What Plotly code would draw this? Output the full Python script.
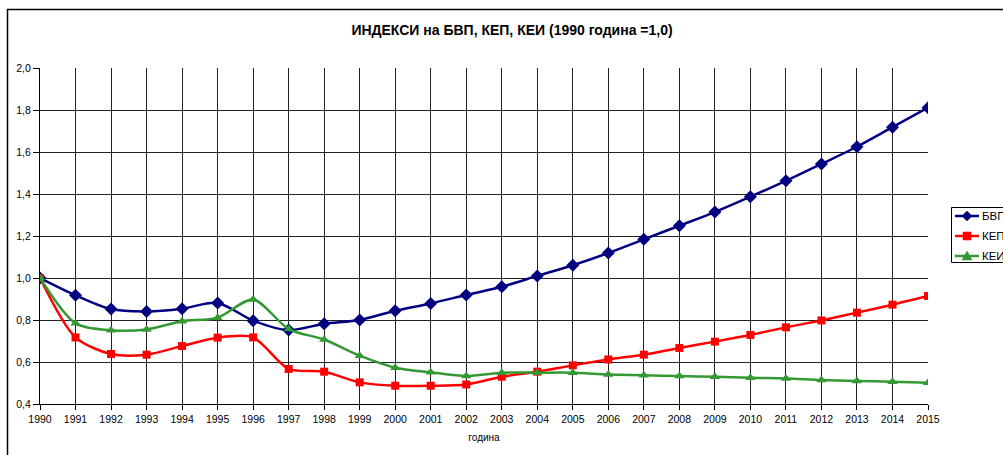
import plotly.graph_objects as go

years = list(range(1990, 2016))
bvp = [1.0, 0.918, 0.852, 0.841, 0.854, 0.881, 0.797, 0.752, 0.782, 0.80, 0.844, 0.879,
       0.919, 0.958, 1.01, 1.061, 1.119, 1.184, 1.249, 1.314, 1.387, 1.463, 1.543, 1.625,
       1.718, 1.811]
kep = [1.0, 0.717, 0.638, 0.635, 0.676, 0.716, 0.717, 0.567, 0.554, 0.503, 0.487, 0.487,
       0.493, 0.53, 0.554, 0.584, 0.612, 0.635, 0.667, 0.697, 0.729, 0.765, 0.798, 0.835,
       0.873, 0.914]
kei = [1.0, 0.784, 0.751, 0.755, 0.794, 0.811, 0.898, 0.757, 0.707, 0.63, 0.573, 0.551,
       0.533, 0.549, 0.549, 0.549, 0.540, 0.537, 0.533, 0.530, 0.525, 0.522, 0.514, 0.510,
       0.506, 0.501]
names = ["БВП", "КЕП", "КЕИ"]
y_ticks = [0.4, 0.6, 0.8, 1.0, 1.2, 1.4, 1.6, 1.8, 2.0]
y_tick_text = ["0,4", "0,6", "0,8", "1,0", "1,2", "1,4", "1,6", "1,8", "2,0"]

W, H = 1003, 455
# plot area in page pixels
L, R, T, B = 40, 928, 68, 404


def px(p):
    return (p - L) / (R - L)


def py(p):
    return (B - p) / (B - T)


fig = go.Figure()
styles = [("#000080", "diamond", 10), ("#FF0000", "square", 8), ("#339933", "triangle-up", 9)]
for name, vals, (col, sym, sz) in zip(names, [bvp, kep, kei], styles):
    fig.add_trace(go.Scatter(
        x=years, y=vals, name=name, mode="lines+markers",
        line=dict(color=col, width=2.5, shape="spline", smoothing=0.8),
        marker=dict(symbol=sym, size=sz, color=col),
        showlegend=False,
    ))

fig.update_layout(
    width=W, height=H,
    margin=dict(l=L, r=W - R, t=T, b=H - B),
    paper_bgcolor="white", plot_bgcolor="white",
    font=dict(family="Liberation Sans, Arial, sans-serif", size=10.5, color="black"),
    title=dict(text="<b>ИНДЕКСИ на БВП, КЕП, КЕИ (1990 година =1,0)</b>",
               x=512 / W, xanchor="center", y=1 - 30 / H, yanchor="middle",
               font=dict(size=14)),
    showlegend=False,
)
fig.update_xaxes(
    range=[1990, 2015], tickmode="array", tickvals=years,
    ticks="outside", ticklen=5, tickcolor="black",
    showline=True, linecolor="black", linewidth=1,
    showgrid=True, gridcolor="#222222", gridwidth=1, zeroline=False,
    title=dict(text="година", font=dict(size=10), standoff=10),
)
fig.update_yaxes(
    range=[0.4, 2.0], tickmode="array", tickvals=y_ticks, ticktext=y_tick_text,
    ticks="outside", ticklen=6, tickcolor="black",
    showline=True, linecolor="black", linewidth=1,
    showgrid=True, gridcolor="#222222", gridwidth=1, zeroline=False,
)
# outer chart frame (extends past the right and bottom edges, as in the original)
fig.add_shape(type="rect", xref="paper", yref="paper",
              x0=px(7.5), x1=px(1030), y0=py(480), y1=py(9.5),
              line=dict(color="black", width=1.5), layer="below")

# legend (cut off at the right edge, as in the original)
fig.add_shape(type="rect", xref="paper", yref="paper",
              x0=px(951.5), x1=px(1030), y0=py(262.5), y1=py(207.5),
              line=dict(color="black", width=1), fillcolor="white", layer="above")
rows = [216, 236, 256]
for name, (col, sym, sz), ry in zip(names, styles, rows):
    fig.add_shape(type="line", xref="paper", yref="paper",
                  x0=px(955), x1=px(979), y0=py(ry), y1=py(ry),
                  line=dict(color=col, width=2.5))
    cx = 967
    if sym == "diamond":
        path = (f"M {px(cx)},{py(ry - 5)} L {px(cx + 5)},{py(ry)} "
                f"L {px(cx)},{py(ry + 5)} L {px(cx - 5)},{py(ry)} Z")
    elif sym == "square":
        path = (f"M {px(cx - 4)},{py(ry - 4)} L {px(cx + 4)},{py(ry - 4)} "
                f"L {px(cx + 4)},{py(ry + 4)} L {px(cx - 4)},{py(ry + 4)} Z")
    else:
        path = (f"M {px(cx)},{py(ry - 5)} L {px(cx + 5)},{py(ry + 4)} "
                f"L {px(cx - 5)},{py(ry + 4)} Z")
    fig.add_shape(type="path", xref="paper", yref="paper", path=path,
                  fillcolor=col, line=dict(color=col, width=0.5))
    fig.add_annotation(xref="paper", yref="paper", x=px(980), y=py(ry),
                       xanchor="left", yanchor="middle", showarrow=False,
                       text=name, font=dict(size=11.5, color="black"))

fig.write_html(
    "out.html",
    config={"displayModeBar": False},
    post_script="document.body.style.margin='0';document.body.style.overflow='hidden';",
)
